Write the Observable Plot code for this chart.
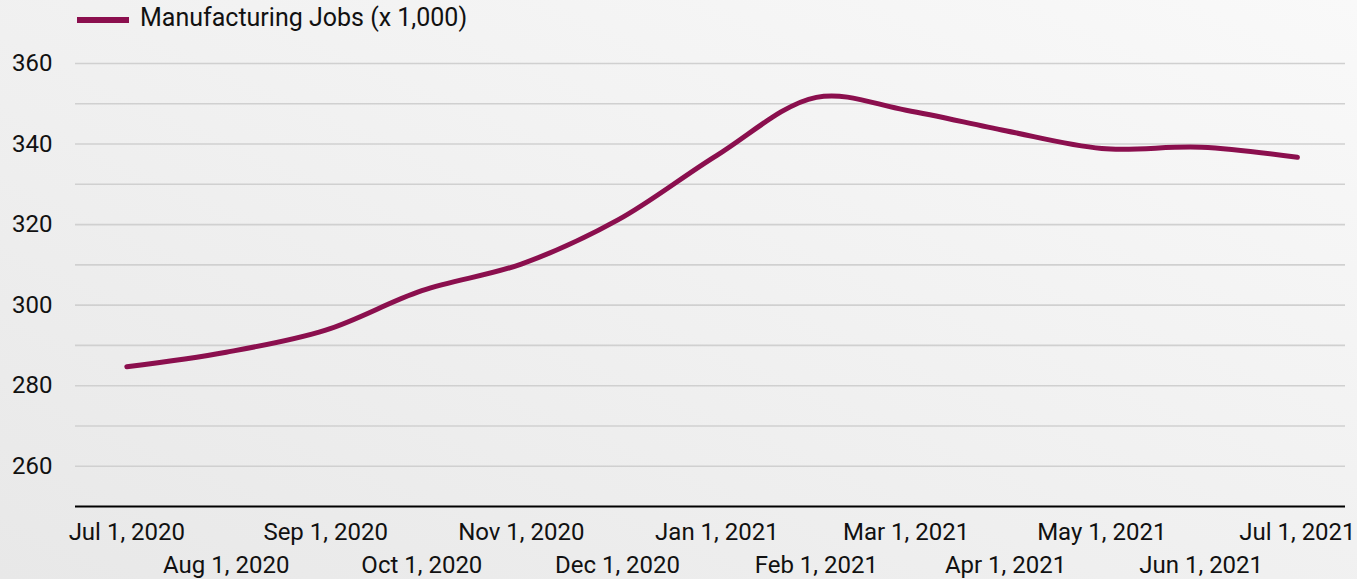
<!DOCTYPE html>
<html>
<head>
<meta charset="utf-8">
<script src="https://cdn.jsdelivr.net/npm/d3@7"></script>
<script src="https://cdn.jsdelivr.net/npm/@observablehq/plot@0.6"></script>
<style>
  html, body { margin: 0; padding: 0; }
  body {
    width: 1357px; height: 579px; overflow: hidden;
    background: linear-gradient(to top right, #e8e8e8, #f9f9f9);
    font-family: Roboto, "Noto Sans", sans-serif;
  }
  #legend { height: 40px; position: relative; }
  #legend .sw { position: absolute; left: 77px; top: 17px; width: 52px; height: 6px; background: #8b0f4e; }
  #legend .lb { position: absolute; left: 140px; top: 3px; font-size: 25px; color: #111; white-space: nowrap; }
  #chart svg { display: block; background: transparent; }
</style>
</head>
<body>
<div id="legend"><div class="sw"></div><div class="lb">Manufacturing Jobs (x 1,000)</div></div>
<div id="chart"></div>
<script>
const seriesName = "Manufacturing Jobs (x 1,000)";
const months = ["2020-07-01","2020-08-01","2020-09-01","2020-10-01","2020-11-01","2020-12-01",
                "2021-01-01","2021-02-01","2021-03-01","2021-04-01","2021-05-01","2021-06-01","2021-07-01"];
const jobs = [284.7, 288.3, 293.8, 303.6, 310.2, 321.1, 337.2, 351.6, 348.4, 343.3, 338.9, 339.2, 336.7];
const yTicks = [260, 280, 300, 320, 340, 360];
const yGrid = [260, 270, 280, 290, 300, 310, 320, 330, 340, 350, 360];

const data = months.map((m, i) => ({date: new Date(m + "T00:00:00Z"), value: jobs[i]}));
const tickDates = data.map(d => d.date);
const topRow = tickDates.filter((d, i) => i % 2 === 0);
const bottomRow = tickDates.filter((d, i) => i % 2 === 1);
const fmt = d3.utcFormat("%b %-d, %Y");

const chart = Plot.plot({
  width: 1357,
  height: 539,
  marginLeft: 75,
  marginRight: 12,
  marginTop: 23,
  marginBottom: 73,
  style: {fontFamily: "Roboto, sans-serif", fontSize: "24px", color: "#111", background: "transparent"},
  x: {type: "utc", domain: [new Date("2020-06-15T00:00:00Z"), new Date("2021-07-16T00:00:00Z")]},
  y: {domain: [250, 360]},
  marks: [
    Plot.ruleY(yGrid, {stroke: "#d0d0d0", strokeWidth: 1.6}),
    Plot.ruleY([250], {stroke: "#000", strokeWidth: 2}),
    Plot.axisY(yTicks, {tickSize: 0, tickPadding: 23, label: null, fontSize: 24}),
    Plot.axisX(topRow, {tickSize: 0, tickPadding: 16, tickFormat: fmt, label: null, fontSize: 24}),
    Plot.axisX(bottomRow, {tickSize: 0, tickPadding: 49, tickFormat: fmt, label: null, fontSize: 24}),
    Plot.line(data, {x: "date", y: "value", stroke: "#8b0f4e", strokeWidth: 5, curve: "catmull-rom"})
  ]
});
document.getElementById("chart").appendChild(chart);
</script>
</body>
</html>
